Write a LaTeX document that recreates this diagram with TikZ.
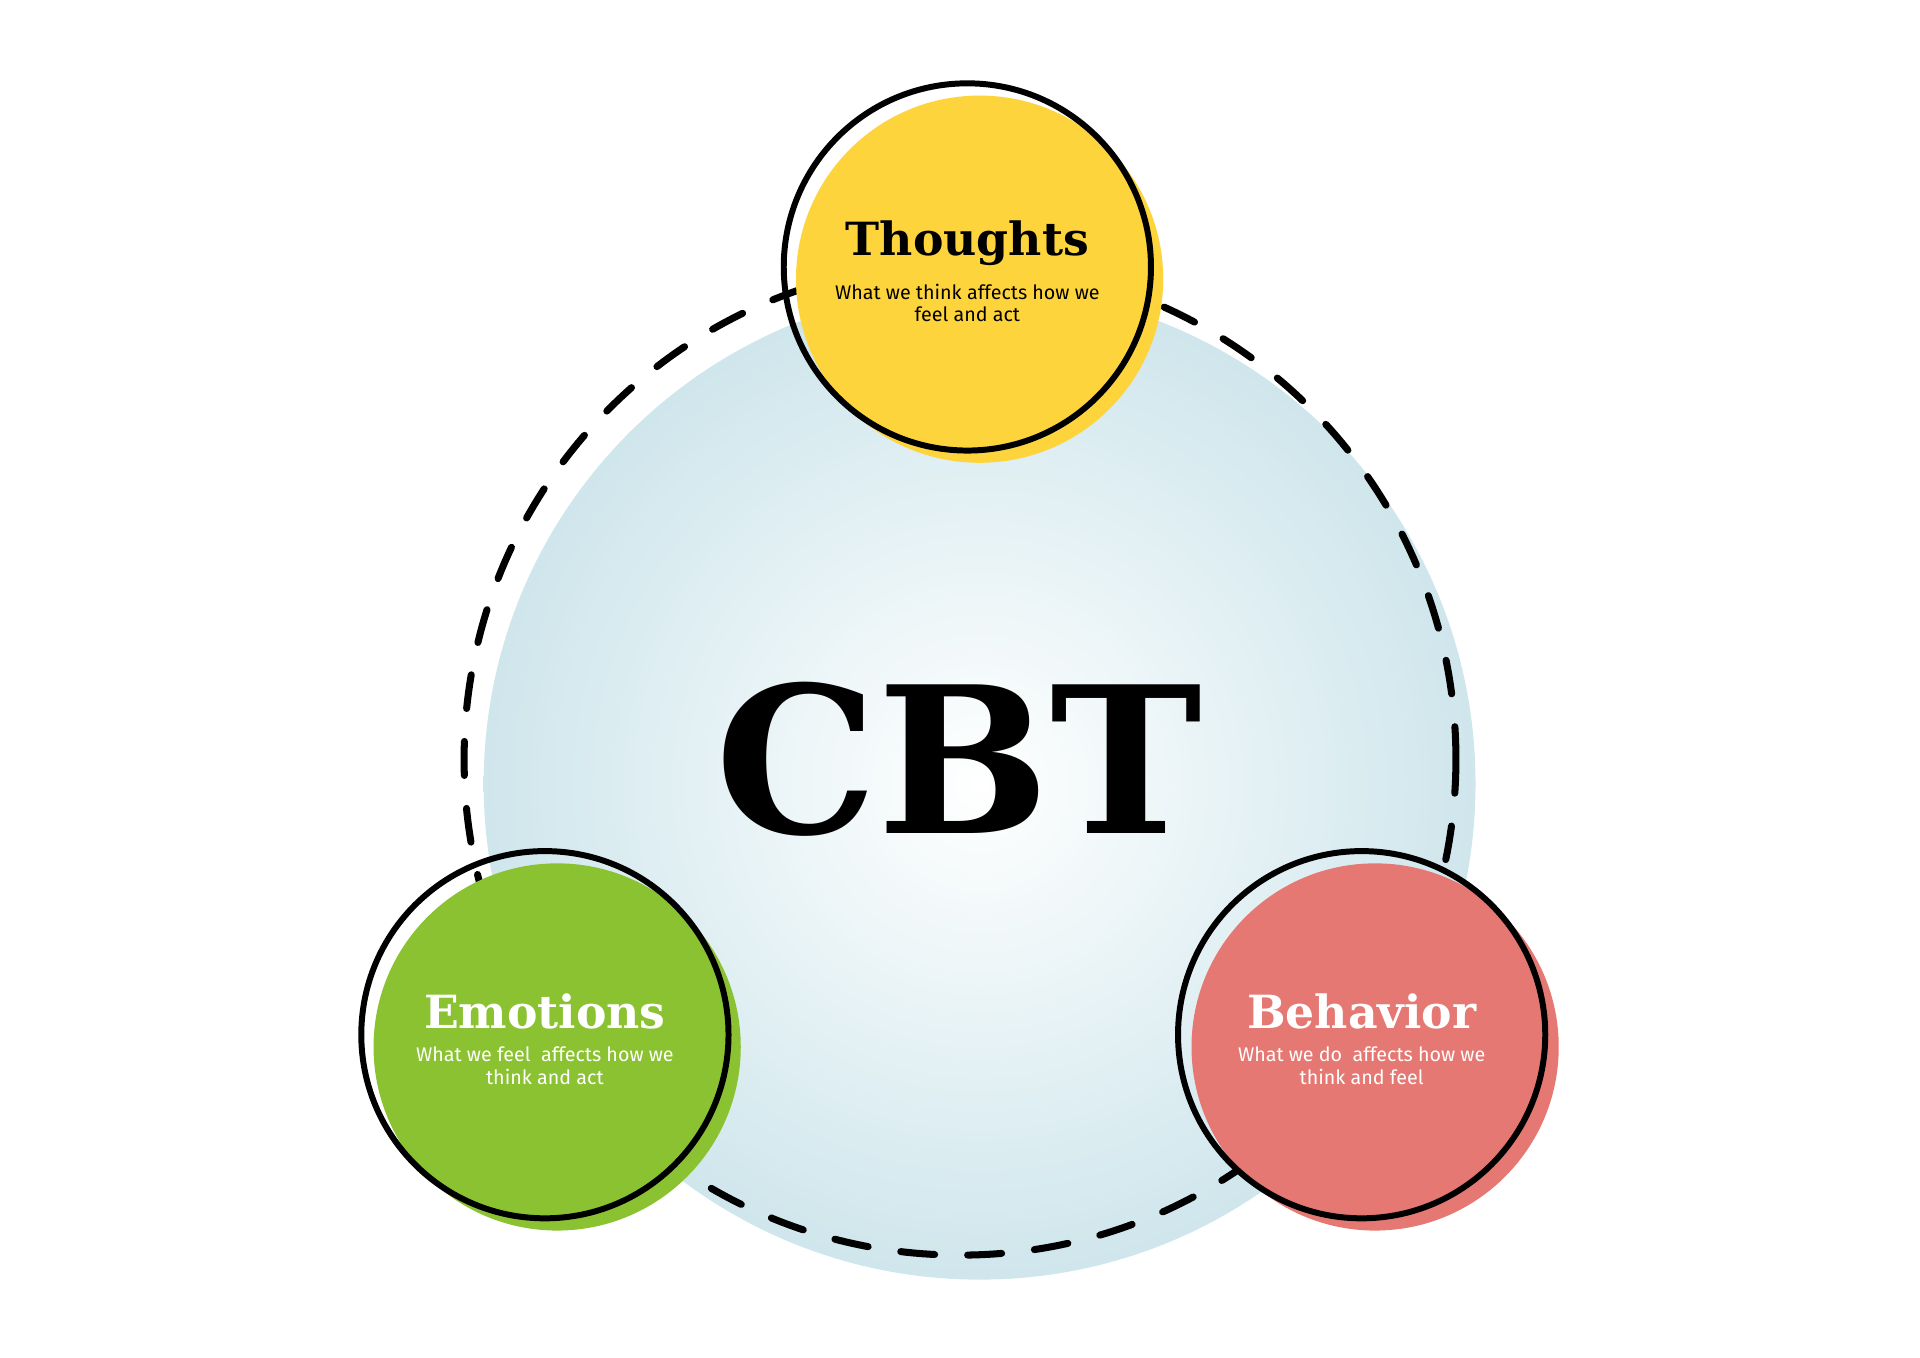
\documentclass[tikz,border=0pt]{standalone}
\usepackage{fontspec}
\usetikzlibrary{positioning}
\setmainfont{DejaVu Serif}
\newfontfamily\notefont{Fira Sans}
\definecolor{thoughtcol}{HTML}{FED43C}
\definecolor{emotioncol}{HTML}{8BC232}
\definecolor{behaviorcol}{HTML}{E57873}
\definecolor{bluecol}{HTML}{CFE6EC}
\tikzset{
  fillcirc/.style={circle,minimum size=3.67cm,inner sep=0pt},
  ringcirc/.style={circle,draw=black,line width=1.7pt,minimum size=3.67cm,inner sep=0pt},
  titletext/.style={font=\bfseries\fontsize{13}{14}\selectfont},
  notetext/.style={font=\notefont\fontsize{5.6}{6.4}\selectfont,align=center}
}
\begin{document}
\begin{tikzpicture}[x=0.012245cm,y=-0.012245cm]
\useasboundingbox[fill=white] (0,0) rectangle (1568,1109);
\shade[inner color=white,outer color=bluecol] (800,640) circle (405);
\draw[line width=2pt,line cap=round,dash pattern=on 0.34cm off 0.33cm] (784,620) circle (405);
% fills
\node[fillcirc,fill=thoughtcol] (tf) at (800,228) {};
\node[fillcirc,fill=emotioncol] (ef) at (455,855) {};
\node[fillcirc,fill=behaviorcol] (bf) at (1123,855) {};
% rings
\node[ringcirc] (tr) at (790,218) {};
\node[ringcirc] (er) at (445,845) {};
\node[ringcirc] (br) at (1112,845) {};
% texts
\node[titletext] (tt) at (790,199) {Thoughts};
\node[notetext,below=-2pt of tt] {What we think affects how we\\feel and act};
\node[titletext,white] (et) at (445,826) {Emotions};
\node[notetext,white,below=-2pt of et] {What we feel\ \ affects how we\\think and act};
\node[titletext,white] (bt) at (1112,826) {Behavior};
\node[notetext,white,below=-2pt of bt] {What we do\ \ affects how we\\think and feel};
\node[font=\bfseries\fontsize{58}{60}\selectfont] (cbt) at (783,620) {CBT};
\end{tikzpicture}
\end{document}
